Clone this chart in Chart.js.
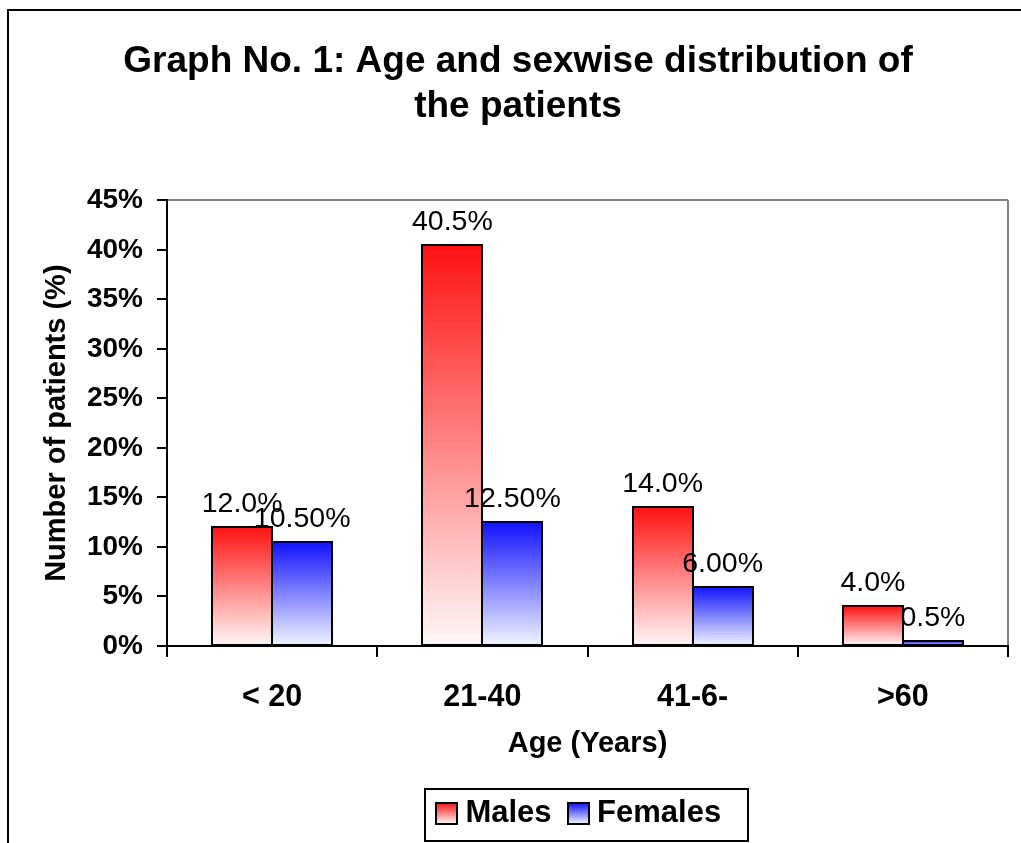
<!DOCTYPE html>
<html>
<head>
<meta charset="utf-8">
<title>Age and sexwise distribution of the patients</title>
<script src="https://cdn.jsdelivr.net/npm/chart.js@4/dist/chart.umd.min.js"></script>
<style>
  html, body { margin: 0; padding: 0; background: #ffffff; }
  #wrap { width: 1021px; height: 843px; }
</style>
</head>
<body>
<div id="wrap"><canvas id="chart" width="1021" height="843"></canvas></div>
<script>
// Age groups on the category axis
const ageGroups = ['< 20', '21-40', '41-6-', '>60'];
// Share of patients (%) in each age group
const males = [12.0, 40.5, 14.0, 4.0];
const females = [10.5, 12.5, 6.0, 0.5];
// Decimal places shown in each value label
const maleDecimals = [1, 1, 1, 1];
const femaleDecimals = [2, 2, 2, 1];
// Y axis tick range
const yMin = 0, yMax = 45, yStep = 5;

const FONT = '"Liberation Sans", Arial, Helvetica, sans-serif';
const topColors = ['#ff1212', '#1212ff'];
const bottomColors = ['#fff8f8', '#f2f6ff'];
const SWATCH = 21;          // visible legend square
const LEGEND_SHIFT = -9;    // legend sits a little left of the plot centre

// Vertical gradient from the bar top (full colour) down to the baseline (almost white)
function barGradient(seriesIndex) {
  return function (ctx) {
    const chart = ctx.chart;
    if (!chart.chartArea || ctx.type !== 'data') return topColors[seriesIndex];
    const ys = chart.scales.y;
    const yTop = ys.getPixelForValue(ctx.raw);
    const yBase = ys.getPixelForValue(0);
    const g = chart.ctx.createLinearGradient(0, yTop, 0, yBase === yTop ? yTop + 1 : yBase);
    g.addColorStop(0, topColors[seriesIndex]);
    g.addColorStop(1, bottomColors[seriesIndex]);
    return g;
  };
}

// White page with the outer frame, bar outlines and the framed legend
const framePlugin = {
  id: 'frame',
  afterLayout(chart) {
    const lg = chart.legend;
    if (lg) { lg.left += LEGEND_SHIFT; lg.right += LEGEND_SHIFT; }
  },
  beforeDraw(chart) {
    const c = chart.ctx;
    c.save();
    c.fillStyle = '#ffffff';
    c.fillRect(0, 0, chart.width, chart.height);
    c.strokeStyle = '#000000';
    c.lineWidth = 2;
    c.strokeRect(8, 10, chart.width + 40, chart.height + 40);
    c.restore();
  },
  afterDatasetsDraw(chart) {
    // black outline centred on each bar's edges
    const c = chart.ctx;
    c.save();
    c.strokeStyle = '#000000';
    c.lineWidth = 2;
    chart.data.datasets.forEach((ds, di) => {
      chart.getDatasetMeta(di).data.forEach((bar) => {
        const p = bar.getProps(['x', 'y', 'base', 'width'], true);
        const l = Math.round(p.x - p.width / 2);
        const r = Math.round(p.x + p.width / 2);
        const t = Math.round(p.y);
        const b = Math.round(p.base);
        c.strokeRect(l, t, r - l, b - t);
      });
    });
    c.restore();
  },
  afterDraw(chart) {
    const lg = chart.legend;
    if (!lg || !lg.legendHitBoxes || !lg.legendHitBoxes.length) return;
    const hbs = lg.legendHitBoxes;
    const fs = lg.options.labels.font.size;
    const c = chart.ctx;
    c.save();
    // legend squares with the same gradients as the bars
    hbs.forEach((hb, i) => {
      const top = Math.round(hb.top + Math.max((fs - SWATCH) / 2, 0));
      const left = Math.round(hb.left);
      const g = c.createLinearGradient(0, top, 0, top + SWATCH);
      g.addColorStop(0, topColors[i]);
      g.addColorStop(1, bottomColors[i]);
      c.fillStyle = g;
      c.fillRect(left, top, SWATCH, SWATCH);
      c.strokeStyle = '#000000';
      c.lineWidth = 2;
      c.strokeRect(left, top, SWATCH, SWATCH);
    });
    // border round the legend
    const first = hbs[0], last = hbs[hbs.length - 1];
    const cy = first.top + fs / 2;
    c.strokeStyle = '#000000';
    c.lineWidth = 2;
    const x0 = Math.round(first.left - 11);
    const x1 = Math.round(last.left + last.width + 27);
    c.strokeRect(x0, Math.round(cy - 25), x1 - x0, 52);
    c.restore();
  }
};

// Value labels above every bar
const valueLabels = {
  id: 'valueLabels',
  afterDatasetsDraw(chart) {
    const c = chart.ctx;
    const decimals = [maleDecimals, femaleDecimals];
    c.save();
    c.font = '28.5px ' + FONT;
    c.fillStyle = '#000000';
    c.textAlign = 'center';
    c.textBaseline = 'alphabetic';
    chart.data.datasets.forEach((ds, di) => {
      const meta = chart.getDatasetMeta(di);
      meta.data.forEach((bar, i) => {
        const v = ds.data[i];
        c.fillText(v.toFixed(decimals[di][i]) + '%', bar.x, bar.y - 15);
      });
    });
    c.restore();
  }
};

new Chart(document.getElementById('chart'), {
  type: 'bar',
  data: {
    labels: ageGroups,
    datasets: [
      { label: 'Males', data: males, backgroundColor: barGradient(0), borderWidth: 0 },
      { label: 'Females', data: females, backgroundColor: barGradient(1), borderWidth: 0 }
    ]
  },
  options: {
    responsive: false,
    animation: false,
    events: [],
    layout: { padding: { left: 28, right: 13, top: 0, bottom: 4 } },
    datasets: { bar: { categoryPercentage: 0.571, barPercentage: 1.0 } },
    plugins: {
      title: {
        display: true,
        text: ['Graph No. 1: Age and sexwise distribution of', 'the patients'],
        color: '#000000',
        font: { family: FONT, size: 37, weight: 'bold', lineHeight: 1.22 },
        padding: { top: 39, bottom: 71 }
      },
      legend: {
        display: true,
        position: 'bottom',
        fullSize: false,
        labels: {
          color: '#000000',
          font: { family: FONT, size: 31, weight: 'bold' },
          boxWidth: 14,
          boxHeight: SWATCH,
          padding: 16,
          generateLabels(chart) {
            return chart.data.datasets.map((ds, i) => ({
              text: ds.label,
              fillStyle: 'rgba(0,0,0,0)',
              strokeStyle: 'rgba(0,0,0,0)',
              lineWidth: 0,
              hidden: false,
              datasetIndex: i
            }));
          }
        }
      },
      tooltip: { enabled: false }
    },
    scales: {
      x: {
        afterFit(scale) { scale.height = 136; },
        grid: {
          drawOnChartArea: true,
          drawTicks: true,
          tickLength: 11,
          lineWidth: 2,
          color: (ctx) => ctx.type === 'tick' ? 'rgba(0,0,0,0)' : '#808080',
          tickColor: '#000000',
          tickWidth: 2
        },
        border: { display: true, color: '#000000', width: 2 },
        ticks: {
          color: '#000000',
          padding: 22,
          font: { family: FONT, size: 30.5, weight: 'bold' }
        },
        title: {
          display: true,
          text: 'Age (Years)',
          color: '#000000',
          font: { family: FONT, size: 29, weight: 'bold', lineHeight: 1.2 },
          padding: { top: 0, bottom: 21 }
        }
      },
      y: {
        min: yMin,
        max: yMax,
        afterFit(scale) { scale.width = 139; },
        grid: {
          drawOnChartArea: true,
          drawTicks: true,
          tickLength: 10,
          lineWidth: 2,
          color: (ctx) => (ctx.tick && ctx.tick.value === yMax) ? '#808080' : 'rgba(0,0,0,0)',
          tickColor: '#000000',
          tickWidth: 2
        },
        border: { display: true, color: '#000000', width: 2 },
        ticks: {
          stepSize: yStep,
          color: '#000000',
          padding: 14,
          font: { family: FONT, size: 28, weight: 'bold' },
          callback: (v) => v + '%'
        },
        title: {
          display: true,
          text: 'Number of patients (%)',
          color: '#000000',
          font: { family: FONT, size: 29, weight: 'bold', lineHeight: 1.2 },
          padding: { top: 12, bottom: 0 }
        }
      }
    }
  },
  plugins: [framePlugin, valueLabels]
});
</script>
</body>
</html>
